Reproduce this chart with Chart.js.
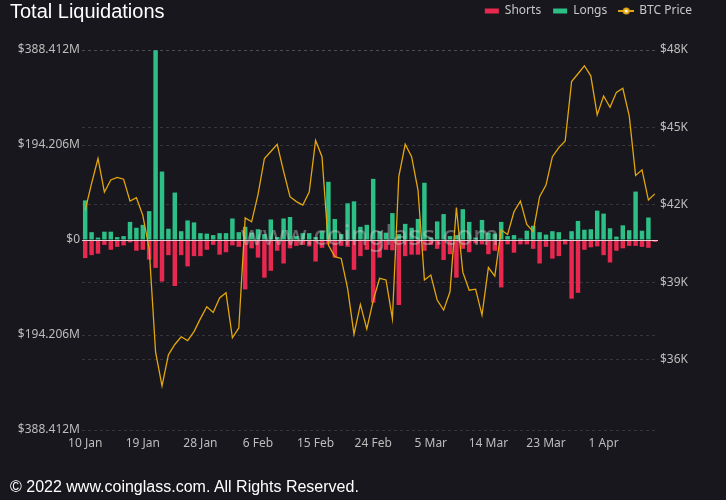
<!DOCTYPE html>
<html>
<head>
<meta charset="utf-8">
<script src="https://cdn.jsdelivr.net/npm/chart.js@4.4.0/dist/chart.umd.min.js"></script>
<style>
  html, body { margin: 0; padding: 0; background: #17171d; }
  #wrap { position: relative; width: 726px; height: 500px; }
  #title { position: absolute; left: 10px; top: 0px; color: #fff; font: 20px "Liberation Sans", Arial, sans-serif; }
  #foot { position: absolute; left: 10px; top: 478px; color: #fff; font: 16px "Liberation Sans", Arial, sans-serif; }
</style>
</head>
<body>
<div id="wrap">
  <canvas id="liqChart" width="726" height="500"></canvas>
  <div id="title">Total Liquidations</div>
  <div id="foot">© 2022 www.coinglass.com. All Rights Reserved.</div>
</div>
<script>
// dates 10 Jan - 9 Apr 2022
const dates = [
  '10 Jan','11 Jan','12 Jan','13 Jan','14 Jan','15 Jan','16 Jan','17 Jan','18 Jan','19 Jan','20 Jan',
  '21 Jan','22 Jan','23 Jan','24 Jan','25 Jan','26 Jan','27 Jan','28 Jan','29 Jan','30 Jan','31 Jan',
  '1 Feb','2 Feb','3 Feb','4 Feb','5 Feb','6 Feb','7 Feb','8 Feb','9 Feb','10 Feb','11 Feb','12 Feb',
  '13 Feb','14 Feb','15 Feb','16 Feb','17 Feb','18 Feb','19 Feb','20 Feb','21 Feb','22 Feb','23 Feb',
  '24 Feb','25 Feb','26 Feb','27 Feb','28 Feb',
  '1 Mar','2 Mar','3 Mar','4 Mar','5 Mar','6 Mar','7 Mar','8 Mar','9 Mar','10 Mar','11 Mar','12 Mar',
  '13 Mar','14 Mar','15 Mar','16 Mar','17 Mar','18 Mar','19 Mar','20 Mar','21 Mar','22 Mar','23 Mar',
  '24 Mar','25 Mar','26 Mar','27 Mar','28 Mar','29 Mar','30 Mar','31 Mar',
  '1 Apr','2 Apr','3 Apr','4 Apr','5 Apr','6 Apr','7 Apr','8 Apr','9 Apr'
];

// liquidations in $M
const longs = [
  81, 16, 5, 17, 17, 6, 8, 37, 25, 31,
  59, 388, 140, 23, 97, 18, 40, 36, 14, 13,
  10, 14, 14, 44, 16, 27, 15, 22, 12, 42,
  6, 44, 47, 8, 14, 14, 6, 18, 119, 43,
  12, 75, 79, 27, 31, 125, 18, 15, 55, 12,
  33, 25, 43, 117, 5, 38, 53, 8, 10, 63,
  37, 5, 41, 15, 13, 37, 8, 10, 3, 19,
  29, 16, 11, 18, 16, 2, 18, 39, 21, 22,
  60, 54, 24, 7, 30, 20, 99, 19, 46, 1
];
const shorts = [
  37, 31, 28, 10, 20, 14, 11, 5, 22, 20,
  40, 57, 85, 31, 94, 31, 54, 33, 33, 20,
  10, 30, 25, 11, 14, 101, 17, 36, 77, 63,
  22, 48, 17, 12, 10, 13, 44, 16, 9, 36,
  12, 14, 61, 33, 20, 128, 36, 20, 21, 133,
  33, 30, 30, 22, 10, 18, 41, 29, 77, 18,
  25, 7, 9, 29, 22, 97, 9, 26, 9, 9,
  18, 48, 14, 38, 33, 9, 120, 108, 20, 15,
  13, 31, 46, 22, 17, 12, 12, 14, 16, 4
];
// BTC price in $K
const btcPrice = [
  41.8, 42.84, 43.8, 42.5, 42.97, 43.07, 43.0, 42.15, 42.28, 41.6,
  40.3, 36.3, 35.0, 36.2, 36.6, 36.9, 36.75, 37.1, 37.6, 38.06,
  37.84, 38.4, 38.6, 36.86, 37.24, 41.5, 41.35, 42.4, 43.8, 44.07,
  44.35, 43.3, 42.32, 42.13, 42.0, 42.5, 44.5, 43.87, 40.45, 40.0,
  39.93, 38.77, 37.0, 38.15, 37.2, 38.3, 39.16, 39.1, 37.6, 43.1,
  44.35, 43.87, 42.58, 39.1, 39.29, 38.32, 37.93, 38.64, 41.9, 39.4,
  38.7, 38.74, 37.74, 39.58, 39.25, 41.03, 40.86, 41.74, 42.15, 41.25,
  40.97, 42.32, 42.77, 43.87, 44.22, 44.48, 46.78, 47.08, 47.39, 47.0,
  45.49, 46.22, 45.78, 46.36, 46.52, 45.46, 43.14, 43.36, 42.19, 42.43
];

const liqTicks = [-388.412, -194.206, 0, 194.206, 388.412];
const priceTicks = [36, 39, 42, 45, 48];

const RED = '#e8284f';
const GREEN = '#2cbf86';
const GOLD = '#e3a60c';
const GRID = 'rgba(255,255,255,0.13)';
const TICK = '#bdbdbd';

// legend symbol for price: line with a small ring
const priceIcon = document.createElement('canvas');
priceIcon.width = 16;
priceIcon.height = 8;
(function () {
    const c = priceIcon.getContext('2d');
    c.strokeStyle = GOLD;
    c.lineWidth = 2;
    c.beginPath();
    c.moveTo(0, 4);
    c.lineTo(16, 4);
    c.stroke();
    c.fillStyle = GOLD;
    c.beginPath();
    c.arc(8, 4, 3.5, 0, Math.PI * 2);
    c.fill();
    c.fillStyle = '#fff';
    c.beginPath();
    c.arc(8, 4, 1.5, 0, Math.PI * 2);
    c.fill();
})();

// lift the legend onto the title row
const legendLift = {
    id: 'legendLift',
    afterLayout(chart) {
        chart.legend.top -= 23;
        chart.legend.bottom -= 23;
    }
};

const watermark = {
    id: 'watermark',
    afterDatasetsDraw(chart) {
        const { ctx, chartArea, scales } = chart;
        const y0 = scales.y.getPixelForValue(0);
        ctx.save();
        ctx.strokeStyle = 'rgba(255,235,240,0.85)';
        ctx.lineWidth = 1;
        ctx.beginPath();
        ctx.moveTo(chartArea.left, Math.round(y0) + 0.5);
        ctx.lineTo(chartArea.right, Math.round(y0) + 0.5);
        ctx.stroke();
        ctx.font = '28px "Noto Sans"';
        ctx.fillStyle = 'rgba(215,215,215,0.4)';
        ctx.textAlign = 'center';
        ctx.textBaseline = 'middle';
        ctx.fillText('www.coinglass.com', (chartArea.left + chartArea.right) / 2, y0 - 3);
        ctx.restore();
    }
};

const ctx = document.getElementById('liqChart').getContext('2d');
const liqChart = new Chart(ctx, {
    type: 'bar',
    data: {
        labels: dates,
        datasets: [
            {
                label: 'Shorts',
                data: shorts.map(v => -v),
                backgroundColor: RED,
                pointStyle: 'rect',
                yAxisID: 'y',
                barPercentage: 0.7,
                categoryPercentage: 1,
                order: 1,
            },
            {
                label: 'Longs',
                data: longs,
                backgroundColor: GREEN,
                pointStyle: 'rect',
                yAxisID: 'y',
                barPercentage: 0.7,
                categoryPercentage: 1,
                order: 1,
            },
            {
                type: 'line',
                label: 'BTC Price',
                data: btcPrice,
                borderColor: GOLD,
                backgroundColor: GOLD,
                borderWidth: 1.3,
                pointRadius: 0,
                pointStyle: priceIcon,
                tension: 0,
                yAxisID: 'yPrice',
                order: 0,
            },
        ],
    },
    options: {
        responsive: false,
        animation: false,
        devicePixelRatio: 1,
        layout: {
            padding: { top: 16, right: 22, bottom: 40, left: 0 },
        },
        plugins: {
            tooltip: { enabled: false },
            legend: {
                position: 'top',
                align: 'end',
                labels: {
                    usePointStyle: true,
                    pointStyleWidth: 14,
                    boxHeight: 5,
                    padding: 12,
                    color: '#c8c8c8',
                    font: { family: 'Noto Sans', size: 12 },
                    sort: (a, b) => a.datasetIndex - b.datasetIndex,
                },
            },
        },
        scales: {
            x: {
                stacked: true,
                grid: { display: false, drawTicks: false },
                border: { display: false },
                ticks: {
                    autoSkip: false,
                    maxRotation: 0,
                    minRotation: 0,
                    padding: 6,
                    color: TICK,
                    font: { family: 'Noto Sans', size: 12 },
                    callback: function (val, idx) {
                        return idx % 9 === 0 ? this.getLabelForValue(val) : '';
                    },
                },
                afterFit: (scale) => { scale.height = 30; },
            },
            y: {
                position: 'left',
                stacked: true,
                min: liqTicks[0],
                max: liqTicks[liqTicks.length - 1],
                afterBuildTicks: (scale) => { scale.ticks = liqTicks.map(v => ({ value: v })); },
                grid: { color: GRID, drawTicks: false },
                border: { display: false, dash: [3, 3] },
                ticks: {
                    padding: 2,
                    color: TICK,
                    font: { family: 'Noto Sans', size: 12 },
                    callback: (v) => Math.abs(v) < 1e-6 ? '$0' : '$' + Math.abs(v).toFixed(3) + 'M',
                },
                afterFit: (scale) => { scale.width = 82; },
            },
            yPrice: {
                position: 'right',
                min: 33.29,
                max: 48,
                afterBuildTicks: (scale) => { scale.ticks = priceTicks.map(v => ({ value: v })); },
                grid: { color: GRID, drawTicks: false },
                border: { display: false, dash: [3, 3] },
                ticks: {
                    padding: 2,
                    color: TICK,
                    font: { family: 'Noto Sans', size: 12 },
                    callback: (v) => '$' + v + 'K',
                },
                afterFit: (scale) => { scale.width = 46; },
            },
        },
    },
    plugins: [legendLift, watermark],
});
</script>
</body>
</html>
